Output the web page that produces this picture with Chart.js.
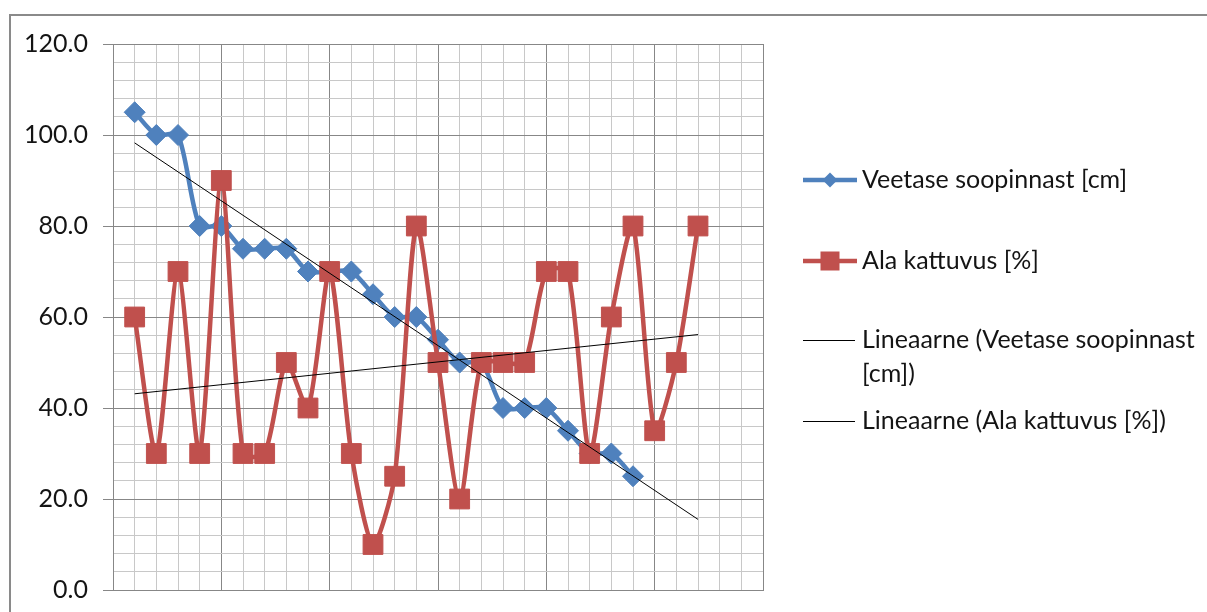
<!DOCTYPE html>
<html>
<head>
<meta charset="utf-8">
<script src="https://cdn.jsdelivr.net/npm/chart.js@4.4.1/dist/chart.umd.min.js"></script>
<style>
  html, body { margin: 0; padding: 0; background: #ffffff; overflow: hidden; }
  canvas { display: block; }
</style>
</head>
<body>
<canvas id="chart" width="1207" height="612"></canvas>
<script>
// Sample numbers along the transect
const sampleNo = [1, 2, 3, 4, 5, 6, 7, 8, 9, 10, 11, 12, 13, 14, 15, 16, 17, 18, 19, 20, 21, 22, 23, 24, 25, 26, 27];
// Water level below the bog surface [cm]
const waterLevel = [105, 100, 100, 80, 80, 75, 75, 75, 70, 70, 70, 65, 60, 60, 55, 50, 50, 40, 40, 40, 35, 30, 30, 25];
// Area coverage [%]
const coverage = [60, 30, 70, 30, 90, 30, 30, 50, 40, 70, 30, 10, 25, 80, 50, 20, 50, 50, 50, 70, 70, 30, 60, 80, 35, 50, 80];

const seriesNames = ['Veetase soopinnast [cm]', 'Ala kattuvus [%]'];
const trendNames = [['Lineaarne (Veetase soopinnast', '[cm])'], ['Lineaarne (Ala kattuvus [%])']];

const BLUE = '#4f81bd';
const RED = '#c0504d';
const FONT = 'Lato';
const TEXT = '#141414';

// least-squares straight line through (x, y)
function linearFit(xs, ys) {
  const n = ys.length;
  let sx = 0, sy = 0;
  for (let i = 0; i < n; i++) { sx += xs[i]; sy += ys[i]; }
  const mx = sx / n, my = sy / n;
  let sxy = 0, sxx = 0;
  for (let i = 0; i < n; i++) {
    sxy += (xs[i] - mx) * (ys[i] - my);
    sxx += (xs[i] - mx) * (xs[i] - mx);
  }
  const slope = sxy / sxx;
  return x => my + slope * (x - mx);
}

const xFirst = sampleNo[0];
const xLast = sampleNo[sampleNo.length - 1];
const waterFit = linearFit(sampleNo, waterLevel);
const coverFit = linearFit(sampleNo, coverage);

const toPoints = ys => ys.map((y, i) => ({ x: sampleNo[i], y }));
const trendPoints = f => [{ x: xFirst, y: f(xFirst) }, { x: xLast, y: f(xLast) }];

// frame around the whole chart
const framePlugin = {
  id: 'frame',
  beforeDraw(chart) {
    const ctx = chart.ctx;
    ctx.save();
    ctx.fillStyle = '#ffffff';
    ctx.fillRect(0, 0, chart.width, chart.height);
    ctx.strokeStyle = '#8a8a8a';
    ctx.lineWidth = 2;
    ctx.strokeRect(10, 15, chart.width + 20, chart.height + 20);
    ctx.restore();
  }
};

// legend on the right-hand side
const legendPlugin = {
  id: 'sideLegend',
  afterDraw(chart) {
    const ctx = chart.ctx;
    const x0 = 803, x1 = 857, xm = (x0 + x1) / 2, tx = 862;
    ctx.save();
    ctx.font = '25px ' + FONT;
    ctx.textBaseline = 'middle';
    ctx.textAlign = 'left';

    // water level series
    let y = 180;
    ctx.strokeStyle = BLUE; ctx.lineWidth = 4.5;
    ctx.beginPath(); ctx.moveTo(x0, y); ctx.lineTo(x1, y); ctx.stroke();
    ctx.fillStyle = BLUE;
    ctx.beginPath();
    ctx.moveTo(xm - 7.5, y); ctx.lineTo(xm, y - 7.5); ctx.lineTo(xm + 7.5, y); ctx.lineTo(xm, y + 7.5);
    ctx.closePath(); ctx.fill();
    ctx.fillStyle = TEXT;
    ctx.fillText(seriesNames[0], tx, y);

    // coverage series
    y = 261;
    ctx.strokeStyle = RED; ctx.lineWidth = 4.5;
    ctx.beginPath(); ctx.moveTo(x0, y); ctx.lineTo(x1, y); ctx.stroke();
    ctx.fillStyle = RED;
    ctx.fillRect(xm - 9.5, y - 9.5, 19, 19);
    ctx.fillStyle = TEXT;
    ctx.fillText(seriesNames[1], tx, y);

    // trend lines
    const trendRows = [[340, 374], [421]];
    trendRows.forEach((rows, k) => {
      const ly = rows[0];
      ctx.strokeStyle = '#000000'; ctx.lineWidth = 1;
      ctx.beginPath(); ctx.moveTo(x0, ly + 0.5); ctx.lineTo(x1 - 2, ly + 0.5); ctx.stroke();
      rows.forEach((ry, j) => ctx.fillText(trendNames[k][j], tx, ry));
    });
    ctx.restore();
  }
};

const MAJOR = '#878787';
const MINOR = '#c8c8c8';

new Chart(document.getElementById('chart'), {
  type: 'scatter',
  data: {
    datasets: [
      {
        label: seriesNames[0],
        data: toPoints(waterLevel),
        showLine: true,
        borderColor: BLUE,
        backgroundColor: BLUE,
        borderWidth: 4.5,
        tension: 0.25,
        pointStyle: 'rectRot',
        pointRadius: 10.5,
        pointBorderWidth: 1,
        order: 2
      },
      {
        label: seriesNames[1],
        data: toPoints(coverage),
        showLine: true,
        borderColor: RED,
        backgroundColor: RED,
        borderWidth: 4.5,
        tension: 0.25,
        pointStyle: 'rect',
        pointRadius: 14,
        pointBorderWidth: 1,
        order: 1
      },
      {
        label: trendNames[0].join(' '),
        data: trendPoints(waterFit),
        showLine: true,
        borderColor: '#000000',
        borderWidth: 1,
        pointRadius: 0,
        order: 0
      },
      {
        label: trendNames[1][0],
        data: trendPoints(coverFit),
        showLine: true,
        borderColor: '#000000',
        borderWidth: 1,
        pointRadius: 0,
        order: 0
      }
    ]
  },
  options: {
    responsive: false,
    animation: false,
    events: [],
    layout: { padding: { top: 44, bottom: 22, left: 0, right: 444 } },
    plugins: {
      legend: { display: false },
      tooltip: { enabled: false }
    },
    scales: {
      x: {
        type: 'linear',
        min: 0,
        max: 30,
        ticks: { display: false, stepSize: 1, autoSkip: false },
        grid: {
          drawTicks: false,
          color: c => (c.tick && c.tick.value % 5 === 0) ? MAJOR : MINOR,
          lineWidth: 1
        },
        border: { color: MAJOR, width: 1 },
        afterFit(scale) { scale.height = 0; }
      },
      y: {
        type: 'linear',
        min: 0,
        max: 120,
        ticks: {
          stepSize: 4,
          autoSkip: false,
          padding: 15,
          color: TEXT,
          font: { family: FONT, size: 25 },
          callback: v => (v % 20 === 0 ? v.toFixed(1) : '')
        },
        grid: {
          drawTicks: true,
          tickLength: 10,
          color: c => (c.tick && c.tick.value % 20 === 0) ? MAJOR : MINOR,
          tickColor: c => (c.tick && c.tick.value % 20 === 0) ? MAJOR : 'rgba(0,0,0,0)',
          lineWidth: 1
        },
        border: { color: MAJOR, width: 1 },
        afterFit(scale) {
          scale.width = 113;
          scale.paddingTop = 0;
          scale.paddingBottom = 0;
        }
      }
    }
  },
  plugins: [framePlugin, legendPlugin]
});
</script>
</body>
</html>
